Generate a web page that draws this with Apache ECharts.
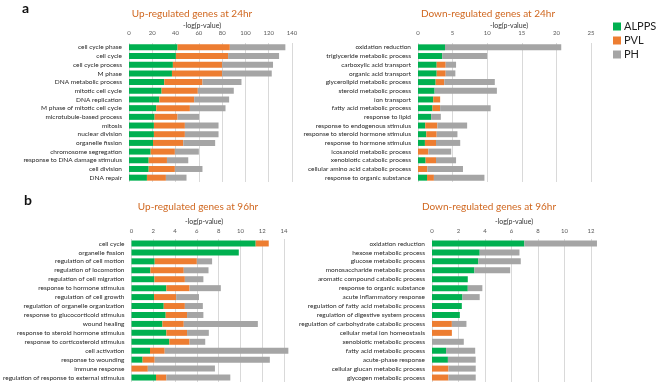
<!DOCTYPE html>
<html>
<head>
<meta charset="utf-8">
<script src="https://cdn.jsdelivr.net/npm/echarts@6/dist/echarts.min.js"></script>
<style>
  html, body { margin: 0; padding: 0; background: #fff; }
  #chart { width: 658px; height: 382px; }
</style>
</head>
<body>
<div id="chart"></div>
<script>
// panel a, up-regulated at 24hr
const up24Terms = ['cell cycle phase', 'cell cycle', 'cell cycle process', 'M phase', 'DNA metabolic process',
  'mitotic cell cycle', 'DNA replication', 'M phase of mitotic cell cycle', 'microtubule-based process',
  'mitosis', 'nuclear division', 'organelle fission', 'chromosome segregation',
  'response to DNA damage stimulus', 'cell division', 'DNA repair'];
const up24ALPPS = [41.7, 40.3, 37.7, 36.9, 30.3, 28.0, 26.0, 23.4, 22.0, 21.4, 21.4, 20.6, 18.6, 16.9, 16.9, 15.4];
const up24PVL = [44.9, 44.8, 42.3, 43.1, 32.8, 31.1, 30.0, 28.9, 19.7, 26.6, 26.6, 26.0, 20.8, 15.7, 22.5, 16.3];
const up24PH = [47.7, 43.8, 43.7, 42.6, 33.5, 30.9, 30.0, 30.6, 18.6, 28.9, 28.9, 27.4, 20.6, 18.3, 23.7, 17.7];

// panel a, down-regulated at 24hr
const down24Terms = ['oxidation reduction', 'triglyceride metabolic process', 'carboxylic acid transport',
  'organic acid transport', 'glycerolipid metabolic process', 'steroid metabolic process', 'ion transport',
  'fatty acid metabolic process', 'response to lipid', 'response to endogenous stimulus',
  'response to steroid hormone stimulus', 'response to hormone stimulus', 'icosanoid metabolic process',
  'xenobiotic catabolic process', 'cellular amino acid catabolic process', 'response to organic substance'];
const down24ALPPS = [3.9, 3.5, 2.7, 2.7, 2.55, 2.4, 2.2, 2.1, 1.9, 1.05, 1.2, 1.0, 0, 1.1, 0, 1.3];
const down24PVL = [0, 0, 1.3, 1.3, 1.25, 0, 1.0, 1.1, 0, 1.75, 1.5, 1.6, 1.5, 1.5, 1.35, 1.0];
const down24PH = [16.8, 6.5, 1.5, 1.4, 7.3, 9.0, 0, 7.3, 1.4, 4.3, 3.0, 3.5, 3.3, 2.9, 5.15, 7.3];

// panel b, up-regulated at 96hr
const up96Terms = ['cell cycle', 'organelle fission', 'regulation of cell motion', 'regulation of locomotion',
  'regulation of cell migration', 'response to hormone stimulus', 'regulation of cell growth',
  'regulation of organelle organization', 'response to glucocorticoid stimulus', 'wound healing',
  'response to steroid hormone stimulus', 'response to corticosteroid stimulus', 'cell activation',
  'response to wounding', 'immune response', 'regulation of response to external stimulus'];
const up96ALPPS = [11.4, 9.85, 2.13, 1.74, 2.1, 3.2, 2.07, 2.96, 3.14, 2.84, 3.2, 3.47, 1.7, 1.02, 0, 2.25];
const up96PVL = [1.2, 0, 3.87, 3.06, 2.8, 2.13, 2.03, 1.94, 1.96, 1.96, 1.9, 1.86, 1.35, 1.11, 1.5, 0.95];
const up96PH = [0, 0, 1.4, 2.27, 1.7, 2.87, 2.1, 1.65, 1.5, 6.8, 2.0, 1.44, 11.35, 10.57, 6.16, 5.87];

// panel b, down-regulated at 96hr
const down96Terms = ['oxidation reduction', 'hexose metabolic process', 'glucose metabolic process',
  'monosaccharide metabolic process', 'aromatic compound catabolic process', 'response to organic substance',
  'acute inflammatory response', 'regulation of fatty acid metabolic process',
  'regulation of digestive system process', 'regulation of carbohydrate catabolic process',
  'cellular metal ion homeostasis', 'xenobiotic metabolic process', 'fatty acid metabolic process',
  'acute-phase response', 'cellular glucan metabolic process', 'glycogen metabolic process'];
const down96ALPPS = [6.97, 3.6, 3.5, 3.2, 2.7, 2.7, 2.3, 2.25, 2.1, 0, 0, 0, 1.06, 1.2, 0, 0];
const down96PVL = [0, 0, 0, 0, 0, 0, 0, 0, 0, 1.5, 1.5, 0, 0, 0, 1.24, 1.24];
const down96PH = [5.48, 3.0, 3.2, 2.7, 0, 1.1, 1.3, 0, 0, 1.1, 0, 2.4, 2.2, 2.1, 2.06, 2.06];

const groups = ['ALPPS', 'PVL', 'PH'];
const colors = ['#00b050', '#ed7d31', '#a5a5a5'];

// tx: title centre, nx: axis-name centre
const panels = [
  { terms: up24Terms, vals: [up24ALPPS, up24PVL, up24PH], max: 140, interval: 20,
    grid: { left: 129, top: 43, width: 163, height: 139 }, title: 'Up-regulated genes at 24hr',
    tx: 192, ty: 9, nx: 202, ny: 22, m: 7 },
  { terms: down24Terms, vals: [down24ALPPS, down24PVL, down24PH], max: 25, interval: 5,
    grid: { left: 418, top: 43, width: 173, height: 139 }, title: 'Down-regulated genes at 24hr',
    tx: 488, ty: 9, nx: 509, ny: 22, m: 7 },
  { terms: up96Terms, vals: [up96ALPPS, up96PVL, up96PH], max: 14, interval: 2,
    grid: { left: 128, top: 239, width: 156, height: 143 }, title: 'Up-regulated genes at 96hr',
    tx: 198, ty: 202, nx: 204, ny: 218, m: 5 },
  { terms: down96Terms, vals: [down96ALPPS, down96PVL, down96PH], max: 12, interval: 2,
    grid: { left: 432, top: 239, width: 159, height: 143 }, title: 'Down-regulated genes at 96hr',
    tx: 489, ty: 202, nx: 514, ny: 218, m: 5 }
];

const font = 'Lato, "Open Sans", sans-serif';

const option = {
  animation: false,
  color: colors,
  textStyle: { fontFamily: font },
  title: [],
  legend: {
    data: groups,
    orient: 'vertical',
    left: 613,
    top: 21,
    padding: 0,
    itemWidth: 8,
    itemHeight: 8,
    itemGap: 3,
    icon: 'rect',
    textStyle: { fontSize: 11, color: '#222', fontFamily: font, padding: [0, 0, 0, -2] }
  },
  graphic: [
    { type: 'text', left: 22, top: 1, style: { text: 'a', font: 'bold 14px ' + font, fill: '#111' } },
    { type: 'text', left: 24, top: 193, style: { text: 'b', font: 'bold 14px ' + font, fill: '#111' } }
  ],
  grid: [],
  xAxis: [],
  yAxis: [],
  series: []
};

panels.forEach((p, i) => {
  option.title.push({
    text: p.title,
    left: p.tx,
    top: p.ty,
    textAlign: 'center',
    padding: 0,
    textStyle: { fontSize: 10, fontWeight: 'normal', color: '#d0671f', fontFamily: font }
  });
  option.title.push({
    text: '-log(p-value)',
    left: p.nx,
    top: p.ny,
    textAlign: 'center',
    padding: 0,
    textStyle: { fontSize: 7, fontWeight: 'normal', color: '#333', fontFamily: font }
  });
  option.grid.push(Object.assign({ containLabel: false }, p.grid));
  option.xAxis.push({
    type: 'value',
    gridIndex: i,
    position: 'top',
    min: 0,
    max: p.max,
    interval: p.interval,
    axisLine: { show: false },
    axisTick: { show: false },
    axisLabel: { fontSize: 6, color: '#595959', margin: p.m, fontFamily: font },
    splitLine: { lineStyle: { color: '#d9d9d9', width: 1 } }
  });
  option.yAxis.push({
    type: 'category',
    gridIndex: i,
    inverse: true,
    data: p.terms,
    axisLine: { show: false },
    axisTick: { show: false },
    axisLabel: { interval: 0, fontSize: 6.5, color: '#262626', margin: 7, fontFamily: font }
  });
  groups.forEach((g, k) => {
    option.series.push({
      name: g,
      type: 'bar',
      stack: 'p' + i,
      xAxisIndex: i,
      yAxisIndex: i,
      barWidth: 6,
      clip: false,
      data: p.vals[k],
      itemStyle: { color: colors[k] }
    });
  });
});

const chart = echarts.init(document.getElementById('chart'));
chart.setOption(option);
</script>
</body>
</html>
